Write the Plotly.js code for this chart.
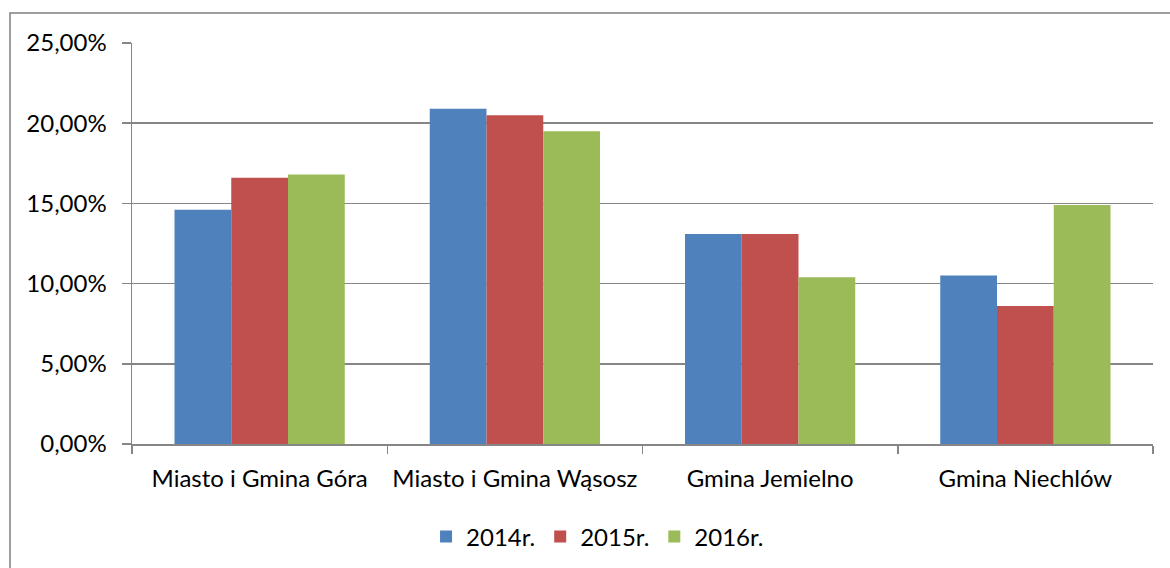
<!DOCTYPE html>
<html>
<head>
<meta charset="utf-8">
<script src="https://cdn.plot.ly/plotly-3.0.1.min.js"></script>
<style>html,body{margin:0;padding:0;background:#fff;}#chart{width:1170px;height:568px;}</style>
</head>
<body>
<div id="chart"></div>
<script>
const categories = ["Miasto i Gmina Góra", "Miasto i Gmina Wąsosz", "Gmina Jemielno", "Gmina Niechlów"];
const seriesNames = ["2014r.", "2015r.", "2016r."];
const values2014 = [0.146, 0.209, 0.131, 0.105];
const values2015 = [0.166, 0.205, 0.131, 0.086];
const values2016 = [0.168, 0.195, 0.104, 0.149];
const colors = ["#4F81BD", "#C0504D", "#9BBB59"];
const yTickVals = [0, 0.05, 0.10, 0.15, 0.20, 0.25];

const allValues = [values2014, values2015, values2016];
const traces = allValues.map((vals, i) => ({
  type: "bar",
  name: seriesNames[i],
  x: categories,
  y: vals,
  marker: {color: colors[i], line: {width: 0}},
  hoverinfo: "x+y+name"
}));

const fontFam = "Lato, 'Open Sans', sans-serif";
const fs = 24;
const layout = {
  width: 1170, height: 568,
  margin: {l: 132, r: 17, t: 43, b: 124},
  paper_bgcolor: "#ffffff",
  plot_bgcolor: "#ffffff",
  separators: ", ",
  barmode: "group",
  bargap: 0.333,
  bargroupgap: 0,
  font: {family: fontFam, size: fs, color: "#000000"},
  xaxis: {
    type: "category",
    automargin: false,
    tickangle: 0,
    showline: true, linecolor: "#868686", linewidth: 1.5,
    ticks: "outside", tickson: "boundaries", ticklen: 8, tickcolor: "#868686", tickwidth: 1.5,
    showgrid: false,
    ticklabelstandoff: 13,
    tickfont: {family: fontFam, size: fs, color: "#000"}
  },
  yaxis: {
    range: [0, 0.25],
    automargin: false,
    tickvals: yTickVals,
    tickformat: ".2%",
    showline: true, linecolor: "#868686", linewidth: 1.5,
    ticks: "outside", ticklen: 9, tickcolor: "#868686", tickwidth: 1.5,
    showgrid: true, gridcolor: "#868686", gridwidth: 1.5,
    zeroline: false,
    ticklabelstandoff: 10,
    tickfont: {family: fontFam, size: fs, color: "#000"}
  },
  legend: {
    orientation: "h",
    xref: "paper", x: 0.288, xanchor: "left",
    yref: "container", y: 0.0546, yanchor: "middle",
    font: {family: fontFam, size: fs, color: "#000"},
    bgcolor: "rgba(0,0,0,0)"
  },
  shapes: [{
    type: "rect", xref: "paper", yref: "paper",
    x0: -0.1195, x1: 1.2, y0: -0.6, y1: 1.0748,
    line: {color: "#7f7f7f", width: 1.5},
    fillcolor: "rgba(0,0,0,0)", layer: "below"
  }],
  showlegend: true
};

Plotly.newPlot("chart", traces, layout, {displayModeBar: false, staticPlot: true});
</script>
</body>
</html>
